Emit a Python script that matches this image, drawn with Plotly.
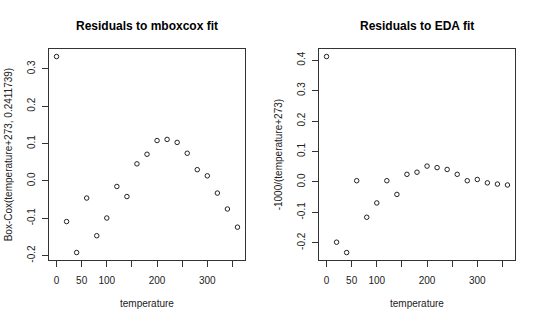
import plotly.graph_objects as go

temperature = list(range(0, 361, 20))
resid_boxcox = [0.333, -0.109, -0.192, -0.046, -0.147, -0.0995, -0.015, -0.042, 0.0456, 0.0713,
                0.108, 0.111, 0.103, 0.074, 0.030, 0.0135, -0.0327, -0.0754, -0.124]
resid_eda = [0.412, -0.198, -0.232, 0.004, -0.116, -0.069, 0.004, -0.041, 0.025, 0.032,
             0.052, 0.047, 0.041, 0.025, 0.004, 0.008, -0.003, -0.007, -0.010]

titles = ["Residuals to mboxcox fit", "Residuals to EDA fit"]
ylabels = ["Box-Cox(temperature+273, 0.2411739)", "-1000/(temperature+273)"]
xlabel = "temperature"
xtick_vals = [0, 50, 100, 150, 200, 250, 300, 350]
xtick_text = ["0", "50", "100", "", "200", "", "300", ""]
ytick_left = [-0.2, -0.1, 0.0, 0.1, 0.2, 0.3]
ytick_right = [-0.2, -0.1, 0.0, 0.1, 0.2, 0.3, 0.4]

W, H = 540, 324
FONT = "Liberation Sans, Arial, sans-serif"

def rng(v):
    lo, hi = min(v), max(v)
    d = (hi - lo) * 0.04
    return [lo - d, hi + d]

fig = go.Figure()
marker = dict(symbol="circle-open", size=4.5, color="#222222", line=dict(width=1, color="#222222"))
fig.add_trace(go.Scatter(x=temperature, y=resid_boxcox, mode="markers", marker=marker,
                         xaxis="x", yaxis="y", showlegend=False))
fig.add_trace(go.Scatter(x=temperature, y=resid_eda, mode="markers", marker=marker,
                         xaxis="x2", yaxis="y2", showlegend=False))

left_px = [49.3, 244.7]
right_px = [319.3, 514.7]
top_px, bot_px = 49, 262
ydom = [(H - bot_px) / H, (H - top_px) / H]

axis_common = dict(showline=True, mirror=True, linecolor="#333333", linewidth=1,
                   showgrid=False, zeroline=False, ticks="outside", ticklen=6,
                   tickcolor="#333333", tickwidth=1,
                   tickfont=dict(family=FONT, size=10, color="#222222"))

xr = rng(temperature)
fig.update_layout(
    width=W, height=H, margin=dict(l=0, r=0, t=0, b=0),
    paper_bgcolor="white", plot_bgcolor="white",
    xaxis=dict(domain=[left_px[0] / W, left_px[1] / W], range=xr, anchor="y",
               tickvals=xtick_vals, ticktext=xtick_text, ticklabelstandoff=5, **axis_common),
    yaxis=dict(domain=ydom, range=rng(resid_boxcox), anchor="x",
               tickvals=ytick_left, ticktext=[f"{v:.1f}" for v in ytick_left],
               tickangle=-90, ticklabelstandoff=3, **axis_common),
    xaxis2=dict(domain=[right_px[0] / W, right_px[1] / W], range=xr, anchor="y2",
                tickvals=xtick_vals, ticktext=xtick_text, ticklabelstandoff=5, **axis_common),
    yaxis2=dict(domain=ydom, range=rng(resid_eda), anchor="x2",
                tickvals=ytick_right, ticktext=[f"{v:.1f}" for v in ytick_right],
                tickangle=-90, ticklabelstandoff=3, **axis_common),
)

annots = []
for i, (px, t, yl) in enumerate(zip([left_px, right_px], titles, ylabels)):
    cx = (px[0] + px[1]) / 2
    annots.append(dict(text=f"<b>{t}</b>", x=cx / W, y=1 - 26 / H, xref="paper", yref="paper",
                       xanchor="center", yanchor="middle", showarrow=False,
                       font=dict(family=FONT, size=12, color="black")))
    annots.append(dict(text=xlabel, x=cx / W, y=1 - 305.5 / H, xref="paper", yref="paper",
                       xanchor="center", yanchor="middle", showarrow=False,
                       font=dict(family=FONT, size=10, color="#222222")))
    annots.append(dict(text=yl, x=(px[0] - 40.5) / W, y=1 - ((top_px + bot_px) / 2) / H,
                       xref="paper", yref="paper", xanchor="center", yanchor="middle",
                       textangle=-90, showarrow=False,
                       font=dict(family=FONT, size=10, color="#222222")))
fig.update_layout(annotations=annots)

fig.write_html("out.html")
